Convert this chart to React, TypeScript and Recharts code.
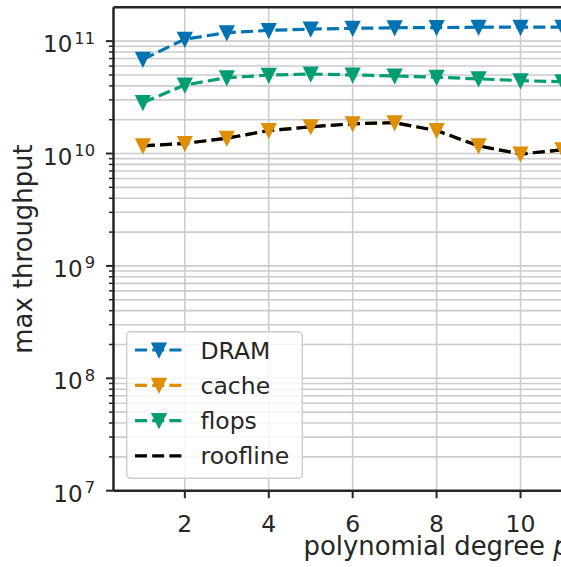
import React from "react"
import { LineChart, Line, XAxis, YAxis, CartesianGrid, Legend, ReferenceLine, Label } from "recharts"

// polynomial degree p (only 1..11 visible in the frame)
const DEGREES = [1, 2, 3, 4, 5, 6, 7, 8, 9, 10, 11]
const DRAM = [6.9e10, 1.04e11, 1.19e11, 1.245e11, 1.28e11, 1.3e11, 1.315e11, 1.32e11, 1.33e11, 1.33e11, 1.33e11]
const CACHE = [1.17e10, 1.23e10, 1.37e10, 1.6e10, 1.73e10, 1.84e10, 1.88e10, 1.6e10, 1.17e10, 0.99e10, 1.08e10]
const FLOPS = [2.84e10, 4.07e10, 4.73e10, 4.98e10, 5.1e10, 5.0e10, 4.9e10, 4.77e10, 4.62e10, 4.45e10, 4.35e10]

const X_TICKS = [2, 4, 6, 8, 10, 12, 14]
const Y_DECADES = [7, 8, 9, 10, 11]
const Y_MINOR_MULTS = [2, 3, 4, 5, 6, 7, 8, 9]
const X_DOMAIN: [number, number] = [0.3, 15.7]
const Y_DOMAIN: [number, number] = [1e7, 2e11]

const FONT = "'DejaVu Sans', sans-serif"
const INK = "#262626"
const GRID = "#cccccc"
const DASH = "12 5.2"

const SERIES = [
  { key: "dram", name: "DRAM", color: "#0173b2", marker: true },
  { key: "cache", name: "cache", color: "#de8f05", marker: true },
  { key: "flops", name: "flops", color: "#029e73", marker: true },
  { key: "roofline", name: "roofline", color: "#000000", marker: false },
]

const ROOFLINE = DEGREES.map((_, i) => Math.min(DRAM[i], CACHE[i], FLOPS[i]))

const data = DEGREES.map((p, i) => ({
  p,
  dram: DRAM[i],
  cache: CACHE[i],
  flops: FLOPS[i],
  roofline: ROOFLINE[i],
}))

const yTicks: number[] = []
Y_DECADES.forEach((e) => {
  yTicks.push(Math.pow(10, e))
  if (e < Y_DECADES[Y_DECADES.length - 1]) {
    Y_MINOR_MULTS.forEach((m) => yTicks.push(m * Math.pow(10, e)))
  }
})
const isMajor = (v: number) => Y_DECADES.some((e) => Math.abs(v - Math.pow(10, e)) < 1e-6 * v)

const TriDown = ({ cx, cy, color }: { cx: number; cy: number; color: string }) => {
  const h = 6.5
  return (
    <path
      d={`M${cx - h},${cy - h}L${cx + h},${cy - h}L${cx},${cy + h}Z`}
      fill={color}
      stroke={color}
      strokeWidth={2}
      strokeLinejoin="miter"
    />
  )
}

const YTick = (props: any) => {
  const { x, y, payload } = props
  const v = payload.value
  const major = isMajor(v)
  const exp = Math.round(Math.log10(v))
  return (
    <g>
      <line x1={x} x2={x - (major ? 7.5 : 4.5)} y1={y} y2={y} stroke={INK} strokeWidth={major ? 2 : 1.5} />
      {major && (
        <text x={x - 18.5} y={y + 11} textAnchor="end" fill={INK} fontFamily={FONT} fontSize={23}>
          10
          <tspan dx={2} dy={-8.6} fontSize={16.3}>
            {exp}
          </tspan>
        </text>
      )}
    </g>
  )
}

const XTick = (props: any) => {
  const { x, y, payload } = props
  return (
    <g>
      <line x1={x} x2={x} y1={y} y2={y + 7.5} stroke={INK} strokeWidth={2} />
      <text x={x} y={y + 41.3} textAnchor="middle" fill={INK} fontFamily={FONT} fontSize={23.5}>
        {payload.value}
      </text>
    </g>
  )
}

const renderXLabel = (props: any) => {
  const vb = props.viewBox
  return (
    <text x={vb.x + vb.width / 2} y={vb.y + 64.3} textAnchor="middle" fill={INK} fontFamily={FONT} fontSize={25.9}>
      polynomial degree <tspan fontStyle="italic">p</tspan>
    </text>
  )
}

const renderYLabel = (props: any) => {
  const vb = props.viewBox
  const cx = vb.x + 31.7
  const cy = vb.y + vb.height / 2
  return (
    <text
      x={cx}
      y={cy}
      transform={`rotate(-90, ${cx}, ${cy})`}
      textAnchor="middle"
      fill={INK}
      fontFamily={FONT}
      fontSize={25.9}
    >
      max throughput
    </text>
  )
}

const LegendBox = () => {
  const rowY = [19, 54.3, 89.6, 124.9]
  return (
    <svg width={180} height={150} style={{ display: "block", overflow: "visible" }}>
      <rect x={0.7} y={0.7} width={175.6} height={146.6} rx={4} fill="#ffffff" fillOpacity={0.8} stroke={GRID} strokeWidth={1.4} />
      {SERIES.map((s, i) => (
        <g key={s.key}>
          <line x1={9} x2={57} y1={rowY[i]} y2={rowY[i]} stroke={s.color} strokeWidth={3.2} strokeDasharray={DASH} />
          {s.marker && <TriDown cx={33} cy={rowY[i]} color={s.color} />}
          <text x={74.5} y={rowY[i] + 8.5} fill={INK} fontFamily={FONT} fontSize={23.5}>
            {s.name}
          </text>
        </g>
      ))}
    </svg>
  )
}

export default function App() {
  return (
    <div
      style={{
        position: "fixed",
        left: 0,
        top: 0,
        width: 561,
        height: 567,
        overflow: "hidden",
        background: "#ffffff",
        fontFamily: FONT,
      }}
    >
      <LineChart width={800} height={567} data={data} margin={{ top: 7.3, right: 40.3, bottom: 0, left: 0 }}>
        <CartesianGrid stroke={GRID} strokeWidth={1.6} />
        <XAxis
          dataKey="p"
          type="number"
          domain={X_DOMAIN}
          ticks={X_TICKS}
          interval={0}
          allowDataOverflow
          height={76.3}
          tickSize={0}
          tickMargin={0}
          tickLine={false}
          tick={<XTick />}
          axisLine={{ stroke: INK, strokeWidth: 2.5 }}
        >
          <Label content={renderXLabel} />
        </XAxis>
        <YAxis
          type="number"
          scale="log"
          domain={Y_DOMAIN}
          ticks={yTicks}
          interval={0}
          allowDataOverflow
          width={113.5}
          tickSize={0}
          tickMargin={0}
          tickLine={false}
          tick={<YTick />}
          axisLine={{ stroke: INK, strokeWidth: 2.5 }}
        >
          <Label content={renderYLabel} />
        </YAxis>
        <ReferenceLine y={Y_DOMAIN[1]} stroke={INK} strokeWidth={2.5} />
        <ReferenceLine x={X_DOMAIN[1]} stroke={INK} strokeWidth={2.5} />
        {SERIES.map((s) => (
          <Line
            key={s.key}
            dataKey={s.key}
            name={s.name}
            type="linear"
            stroke={s.color}
            strokeWidth={3.2}
            strokeDasharray={DASH}
            isAnimationActive={false}
            activeDot={false}
            dot={
              s.marker
                ? (p: any) => <TriDown key={`${s.key}-${p.index}`} cx={p.cx} cy={p.cy} color={s.color} />
                : false
            }
          />
        ))}
        <Legend
          layout="horizontal"
          verticalAlign="middle"
          align="center"
          content={() => <LegendBox />}
          wrapperStyle={{ position: "absolute", left: 126, top: 331, width: 180, height: 150, margin: 0 }}
        />
      </LineChart>
    </div>
  )
}
